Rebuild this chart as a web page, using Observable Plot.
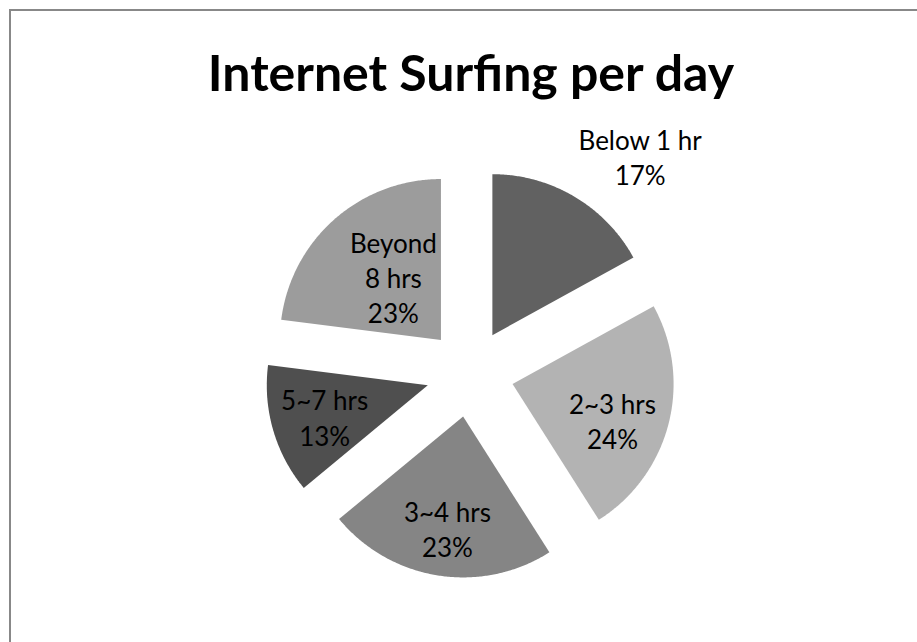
<!DOCTYPE html>
<html>
<head>
<meta charset="utf-8">
<script src="https://cdn.jsdelivr.net/npm/d3@7"></script>
<script src="https://cdn.jsdelivr.net/npm/@observablehq/plot@0.6"></script>
<style>
  html, body { margin: 0; padding: 0; background: #fff; overflow: hidden; }
  #chart { position: relative; width: 917px; height: 642px; overflow: hidden; }
  #chart svg { position: absolute; left: 0; top: 0; }
  /* chart-area outline: only its top and left edges fall inside the page */
  #chart .edge {
    position: absolute; left: 9px; top: 9px; right: -20px; bottom: -20px;
    border-left: 2px solid #888; border-top: 2px solid #888; pointer-events: none;
  }
</style>
</head>
<body>
<div id="chart"><div class="edge"></div></div>
<script>
// Daily internet use, share of respondents (%)
const categories = ["Below 1 hr", "2~3 hrs", "3~4 hrs", "5~7 hrs", "Beyond 8 hrs"];
const shares = [17, 24, 23, 13, 23];
const sliceColors = ["#616161", "#b3b3b3", "#858585", "#4f4f4f", "#9c9c9c"];
const title = "Internet Surfing per day";

// Label placement along each slice's bisector: distance (in radii) and a small turn (deg)
const labelLayout = [
  {r: 1.44, turn: 9, wrap: false},
  {r: 0.66, turn: 5.5, wrap: false},
  {r: 0.70, turn: -1, wrap: false},
  {r: 0.67, turn: -0.8, wrap: false},
  {r: 0.49, turn: 4.3, wrap: true}
];

// Geometry: unit-radius pie, each slice pulled out along its bisector
const explode = 0.273;
const pxPerUnit = 161;
const centre = [469.5, 372.5];
const W = 917, H = 642;

const rows = categories.map((category, i) => ({category, value: shares[i]}));
const arcs = d3.pie().sort(null).value(d => d.value)(rows);

const outline = [];
const labels = [];
arcs.forEach((a, i) => {
  const mid = (a.startAngle + a.endAngle) / 2;
  const ox = explode * Math.sin(mid), oy = explode * Math.cos(mid);
  const category = a.data.category;
  outline.push({category, x: ox, y: oy});
  const steps = Math.max(8, Math.ceil((a.endAngle - a.startAngle) / (Math.PI / 360)));
  for (let k = 0; k <= steps; ++k) {
    const t = a.startAngle + (a.endAngle - a.startAngle) * k / steps;
    outline.push({category, x: ox + Math.sin(t), y: oy + Math.cos(t)});
  }
  outline.push({category, x: ox, y: oy});

  const L = labelLayout[i];
  const ang = mid + L.turn * Math.PI / 180;
  const name = L.wrap ? category.replace(" ", "\n") : category;
  labels.push({
    x: ox + L.r * Math.sin(ang),
    y: oy + L.r * Math.cos(ang),
    text: `${name}\n${a.data.value}%`
  });
});

const chart = Plot.plot({
  width: W,
  height: H,
  margin: 0,
  x: {domain: [-centre[0] / pxPerUnit, (W - centre[0]) / pxPerUnit], axis: null},
  y: {domain: [-(H - centre[1]) / pxPerUnit, centre[1] / pxPerUnit], axis: null},
  color: {domain: categories, range: sliceColors},
  style: {fontFamily: "Lato, 'Open Sans', sans-serif", background: "transparent", color: "#000"},
  marks: [
    Plot.line(outline, {x: "x", y: "y", z: "category", fill: "category", stroke: "none", curve: "linear"}),
    Plot.text(labels, {
      x: "x", y: "y", text: "text",
      fontSize: 26, lineHeight: 1.35, fill: "#000",
      fontFamily: "Lato"
    }),
    Plot.text([title], {
      frameAnchor: "top", lineAnchor: "bottom", dy: 90, dx: 12,
      fontSize: 50, fontWeight: "bold", fill: "#000", fontFamily: "Lato"
    })
  ]
});

document.getElementById("chart").prepend(chart);
</script>
</body>
</html>
